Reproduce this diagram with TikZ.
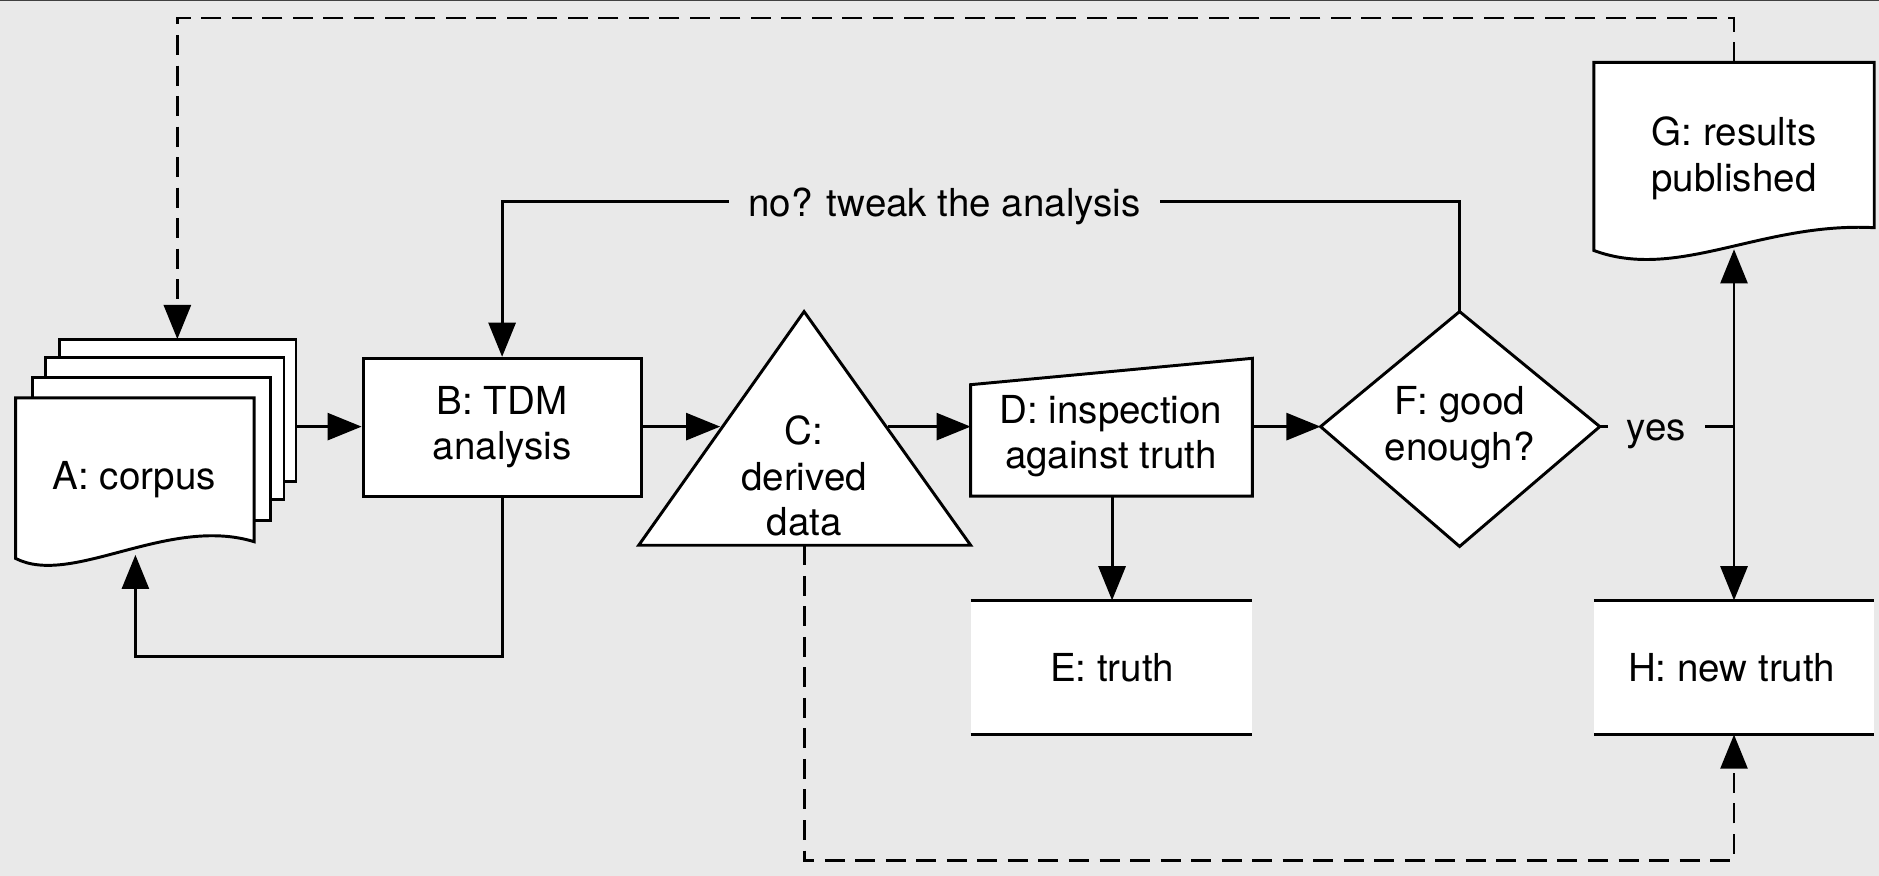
\documentclass[tikz,border=0pt]{standalone}
\usepackage{fontspec}
\setmainfont{TeX Gyre Heros}
\usetikzlibrary{arrows.meta}
\definecolor{bgc}{RGB}{233,233,233}
\begin{document}
\begin{tikzpicture}[x=0.02cm,y=-0.02cm,
  line width=1.4pt, line join=miter,
  shp/.style={draw=black, fill=white},
  lbl/.style={font=\fontsize{18.3}{21.6}\selectfont, align=center, inner sep=0pt},
  tip/.style={-{Triangle[length=0.57cm,width=0.45cm]}},
  dsh/.style={dash pattern=on 9.5pt off 5pt},
  gap/.style={lbl, fill=bgc, inner xsep=9pt, inner ysep=3pt},
]
\fill[bgc] (0,0) rectangle (1568,731);
\useasboundingbox (0,0) rectangle (1568,731);
\draw[line width=0.7pt, black!75] (0,0.5) -- (1568,0.5);

% A: corpus (stack of documents)
\draw[shp] (50,283) rectangle (247,402);
\draw[shp] (38,298) rectangle (237,417);
\draw[shp] (27,315) rectangle (226,434);
\draw[shp] (13,332) -- (212,332) -- (212,452) .. controls (140,430) and (60,490) .. (13,466) -- cycle;
\node[lbl] (A) at (112,400) {A: corpus};
\coordinate (a-top) at (148,283);
\coordinate (a-out) at (247,356);
\coordinate (a-bot) at (113,463);

% B
\node[shp, lbl, minimum width=4.64cm, minimum height=2.3cm] (B) at (419,356.5) {B: TDM\\analysis};

% C: triangle
\draw[shp] (671,260) -- (810,455) -- (533,455) -- cycle;
\node[lbl, text depth=0pt] (C) at (671,397) {C:\\derived\\data};
\coordinate (c-in) at (601,356);
\coordinate (c-out) at (741,356);
\coordinate (c-bot) at (671,455);

% D: manual input
\draw[shp] (810,321) -- (1045,299) -- (1045,414) -- (810,414) -- cycle;
\node[lbl] (D) at (927,364) {D: inspection\\against truth};
\coordinate (d-in) at (810,356);
\coordinate (d-out) at (1045,356);
\coordinate (d-bot) at (928,414);

% E
\fill[white] (810,501) rectangle (1045,613);
\draw (810,501) -- (1045,501);
\draw (810,613) -- (1045,613);
\node[lbl] (E) at (928,557) {E: truth};
\coordinate (e-top) at (928,501);

% F: decision
\draw[shp] (1102,356) -- (1218,260) -- (1335,356) -- (1218,456) -- cycle;
\node[lbl] (F) at (1218,357) {F: good\\enough?};
\coordinate (f-in) at (1102,356);
\coordinate (f-top) at (1218,260);
\coordinate (f-right) at (1335,356);

% G: document
\draw[shp] (1330,52) -- (1564,52) -- (1564,190) .. controls (1470,185) and (1400,235) .. (1330,209) -- cycle;
\node[lbl] (G) at (1447,132) {G: results\\published};
\coordinate (g-top) at (1447,52);
\coordinate (g-bot) at (1447,208);

% H
\fill[white] (1330,501) rectangle (1564,613);
\draw (1330,501) -- (1564,501);
\draw (1330,613) -- (1564,613);
\node[lbl] (H) at (1445,557) {H: new truth};
\coordinate (h-top) at (1447,501);
\coordinate (h-bot) at (1447,613);
\coordinate (yes-join) at (1447,356);

% routing points
\coordinate (tw1) at (1218,168);
\coordinate (tw2) at (419,168);
\coordinate (bl1) at (419,548);
\coordinate (bl2) at (113,548);
\coordinate (td1) at (1447,15);
\coordinate (td2) at (148,15);
\coordinate (bd1) at (671,718);
\coordinate (bd2) at (1447,718);

% connectors
\draw[tip] (a-out) -- (B.west |- a-out);
\draw[tip] (B.east |- c-in) -- (c-in);
\draw[tip] (c-out) -- (d-in);
\draw[tip] (d-out) -- (f-in);
\draw[tip] (d-bot) -- (e-top);
\draw[tip] (f-top) -- (tw1) -- node[gap, pos=0.538, yshift=-2.5pt] (tweak) {no? tweak the analysis} (tw2) -- (B.north);
\draw[tip] (B.south) -- (bl1) -- (bl2) -- (a-bot);
\draw (f-right) -- node[gap, pos=0.42, yshift=-3.5pt] (yes) {yes} (yes-join);
\draw[{Triangle[length=0.57cm,width=0.45cm]}-{Triangle[length=0.57cm,width=0.45cm]}] (g-bot) -- (h-top);
\draw[tip, dsh] (g-top) -- (td1) -- (td2) -- (a-top);
\draw[tip, dsh] (c-bot) -- (bd1) -- (bd2) -- (h-bot);
\end{tikzpicture}
\end{document}
